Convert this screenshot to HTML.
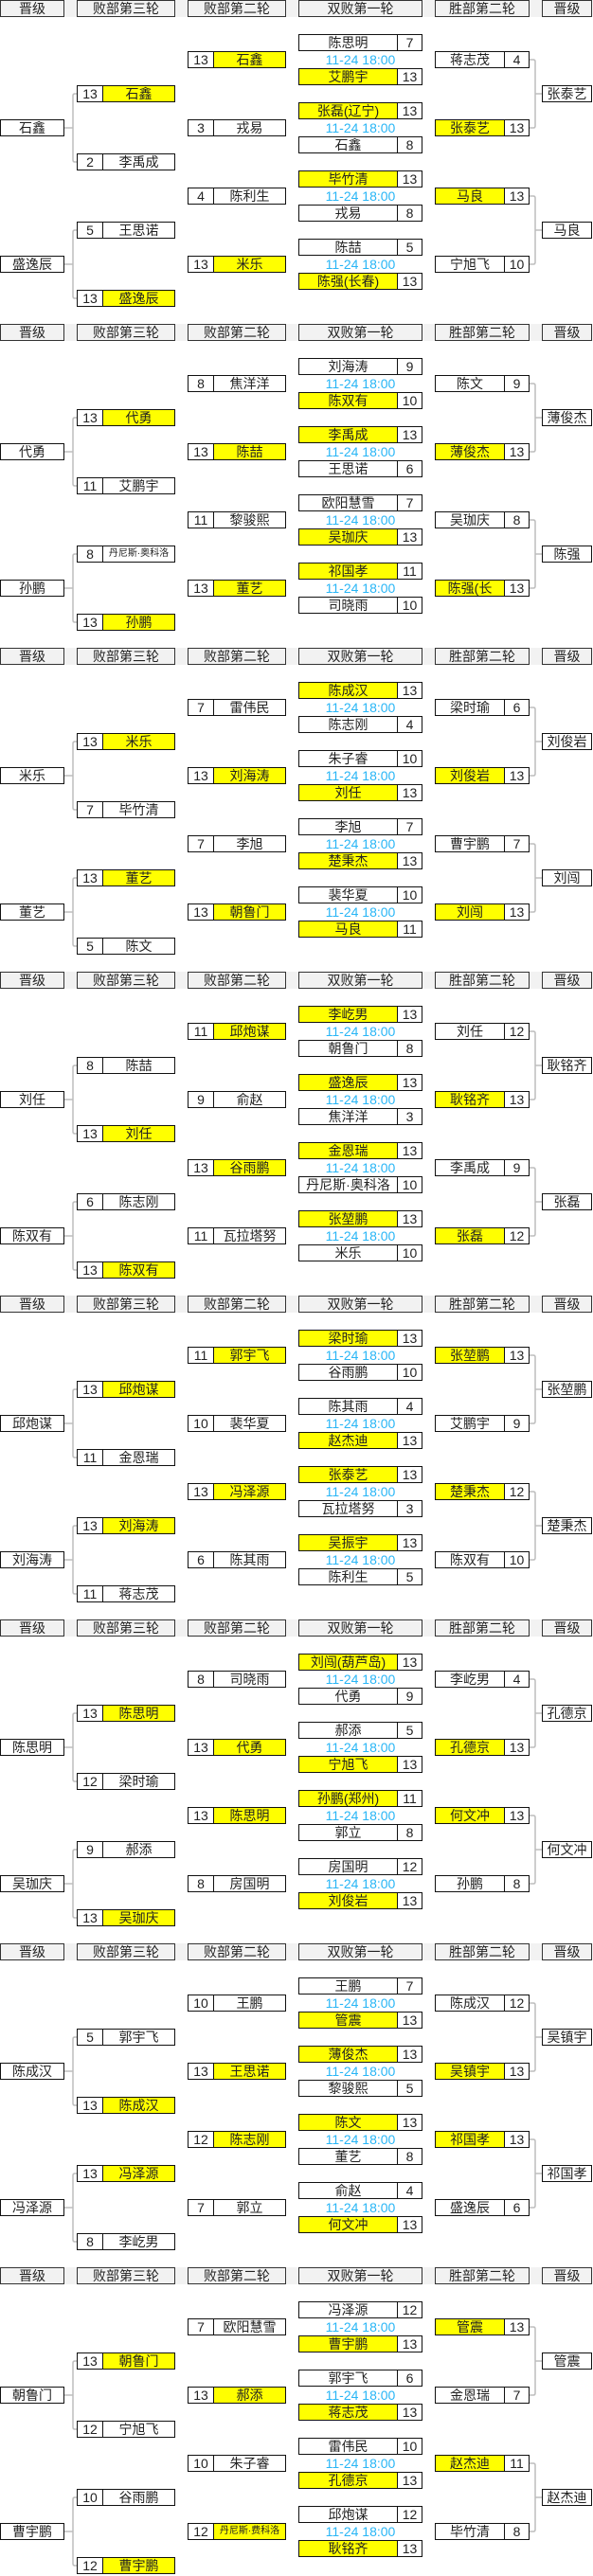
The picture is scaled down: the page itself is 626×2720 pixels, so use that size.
<!DOCTYPE html>
<html><head><meta charset="utf-8">
<style>
body{margin:0;width:626px;height:2720px;position:relative;background:#fff;overflow:hidden;
font-family:"Liberation Sans","Noto Sans CJK SC",sans-serif;font-size:14px;color:#222}
.c{position:absolute;box-sizing:border-box;height:18px;border:1px solid #111;background:#fff;text-align:center;line-height:16px;white-space:nowrap;overflow:hidden}
.y{background:#ffff00}
.h{background:#f2f2f2;border-color:#333}
.hb{position:absolute;left:0;width:626px;height:18px;background:#f2f2f2}
.t{position:absolute;width:131px;left:315px;text-align:center;color:#29b6f6;font-size:14px;line-height:18px;height:18px}
.sm{font-size:10px}
svg{position:absolute;left:0;top:0}
</style></head><body>
<div id="root"></div>
<svg id="lines" width="626" height="2720"></svg>
<script>
var S=[
{d:[["陈思明",7,0],["艾鹏宇",13,1],["张磊(辽宁)",13,1],["石鑫",8,0],["毕竹清",13,1],["戎易",8,0],["陈喆",5,0],["陈强(长春)",13,1]],
b2:[[13,"石鑫",1],[3,"戎易",0],[4,"陈利生",0],[13,"米乐",1]],
b3:[[13,"石鑫",1],[2,"李禹成",0],[5,"王思诺",0],[13,"盛逸辰",1]],
L:["石鑫","盛逸辰"],w:[["蒋志茂",4,0],["张泰艺",13,1],["马良",13,1],["宁旭飞",10,0]],R:["张泰艺","马良"]},
{d:[["刘海涛",9,0],["陈双有",10,1],["李禹成",13,1],["王思诺",6,0],["欧阳慧雪",7,0],["吴珈庆",13,1],["祁国孝",11,1],["司晓雨",10,0]],
b2:[[8,"焦洋洋",0],[13,"陈喆",1],[11,"黎骏熙",0],[13,"董艺",1]],
b3:[[13,"代勇",1],[11,"艾鹏宇",0],[8,"丹尼斯·奥科洛",0,1],[13,"孙鹏",1]],
L:["代勇","孙鹏"],w:[["陈文",9,0],["薄俊杰",13,1],["吴珈庆",8,0],["陈强(长",13,1]],R:["薄俊杰","陈强"]},
{d:[["陈成汉",13,1],["陈志刚",4,0],["朱子睿",10,0],["刘任",13,1],["李旭",7,0],["楚秉杰",13,1],["裴华夏",10,0],["马良",11,1]],
b2:[[7,"雷伟民",0],[13,"刘海涛",1],[7,"李旭",0],[13,"朝鲁门",1]],
b3:[[13,"米乐",1],[7,"毕竹清",0],[13,"董艺",1],[5,"陈文",0]],
L:["米乐","董艺"],w:[["梁时瑜",6,0],["刘俊岩",13,1],["曹宇鹏",7,0],["刘闯",13,1]],R:["刘俊岩","刘闯"]},
{d:[["李屹男",13,1],["朝鲁门",8,0],["盛逸辰",13,1],["焦洋洋",3,0],["金恩瑞",13,1],["丹尼斯·奥科洛",10,0],["张堃鹏",13,1],["米乐",10,0]],
b2:[[11,"邱炮谋",1],[9,"俞赵",0],[13,"谷雨鹏",1],[11,"瓦拉塔努",0]],
b3:[[8,"陈喆",0],[13,"刘任",1],[6,"陈志刚",0],[13,"陈双有",1]],
L:["刘任","陈双有"],w:[["刘任",12,0],["耿铭齐",13,1],["李禹成",9,0],["张磊",12,1]],R:["耿铭齐","张磊"]},
{d:[["梁时瑜",13,1],["谷雨鹏",10,0],["陈其雨",4,0],["赵杰迪",13,1],["张泰艺",13,1],["瓦拉塔努",3,0],["吴振宇",13,1],["陈利生",5,0]],
b2:[[11,"郭宇飞",1],[10,"裴华夏",0],[13,"冯泽源",1],[6,"陈其雨",0]],
b3:[[13,"邱炮谋",1],[11,"金恩瑞",0],[13,"刘海涛",1],[11,"蒋志茂",0]],
L:["邱炮谋","刘海涛"],w:[["张堃鹏",13,1],["艾鹏宇",9,0],["楚秉杰",12,1],["陈双有",10,0]],R:["张堃鹏","楚秉杰"]},
{d:[["刘闯(葫芦岛)",13,1],["代勇",9,0],["郝添",5,0],["宁旭飞",13,1],["孙鹏(郑州)",11,1],["郭立",8,0],["房国明",12,0],["刘俊岩",13,1]],
b2:[[8,"司晓雨",0],[13,"代勇",1],[13,"陈思明",1],[8,"房国明",0]],
b3:[[13,"陈思明",1],[12,"梁时瑜",0],[9,"郝添",0],[13,"吴珈庆",1]],
L:["陈思明","吴珈庆"],w:[["李屹男",4,0],["孔德京",13,1],["何文冲",13,1],["孙鹏",8,0]],R:["孔德京","何文冲"]},
{d:[["王鹏",7,0],["管震",13,1],["薄俊杰",13,1],["黎骏熙",5,0],["陈文",13,1],["董艺",8,0],["俞赵",4,0],["何文冲",13,1]],
b2:[[10,"王鹏",0],[13,"王思诺",1],[12,"陈志刚",1],[7,"郭立",0]],
b3:[[5,"郭宇飞",0],[13,"陈成汉",1],[13,"冯泽源",1],[8,"李屹男",0]],
L:["陈成汉","冯泽源"],w:[["陈成汉",12,0],["吴镇宇",13,1],["祁国孝",13,1],["盛逸辰",6,0]],R:["吴镇宇","祁国孝"]},
{d:[["冯泽源",12,0],["曹宇鹏",13,1],["郭宇飞",6,0],["蒋志茂",13,1],["雷伟民",10,0],["孔德京",13,1],["邱炮谋",12,0],["耿铭齐",13,1]],
b2:[[7,"欧阳慧雪",0],[13,"郝添",1],[10,"朱子睿",0],[12,"丹尼斯·费科洛",1,1]],
b3:[[13,"朝鲁门",1],[12,"宁旭飞",0],[10,"谷雨鹏",0],[12,"曹宇鹏",1]],
L:["朝鲁门","曹宇鹏"],w:[["管震",13,1],["金恩瑞",7,0],["赵杰迪",11,1],["毕竹清",8,0]],R:["管震","赵杰迪"]}
];
var h="",p="";
function box(x,y,w,t,cls){h+='<div class="c '+(cls||"")+'" style="left:'+x+'px;top:'+y+'px;width:'+w+'px">'+t+'</div>';}
function ln(d){p+='<path d="'+d+'" fill="none" stroke="#bdbdbd" stroke-width="1.5"/>';}
var heads=[[0,68,"晋级"],[81,104,"败部第三轮"],[198,104,"败部第二轮"],[315,131,"双败第一轮"],[459,100,"胜部第二轮"],[572,53,"晋级"]];
S.forEach(function(s,k){
 var o=342*k;
 h+='<div class="hb" style="top:'+o+'px"></div>';
 heads.forEach(function(a){box(a[0],o,a[1],a[2],"h");});
 s.d.forEach(function(e,i){
  var m=Math.floor(i/2),y=o+36+m*72+(i%2)*36;
  var sm=e[0].length>7?' sm':'';
  box(315,y,105,e[0],(e[2]?"y":"")+sm);box(419,y,27,e[1]);
  if(i%2==0)h+='<div class="t" style="top:'+(y+18)+'px">11-24 18:00</div>';
 });
 s.b2.forEach(function(e,i){var y=o+54+i*72;box(198,y,28,e[0]);box(225,y,77,e[1],(e[2]?"y":"")+(e[3]?" sm":""));});
 s.b3.forEach(function(e,i){var y=o+[90,162,234,306][i];box(81,y,28,e[0]);box(108,y,77,e[1],(e[2]?"y":"")+(e[3]?" sm":""));});
 s.L.forEach(function(n,i){var y=o+126+i*144;box(0,y,68,n);
   var a=y-27,b=y+45,c=y+9;ln("M81 "+a+" H79 Q77 "+a+" 77 "+(a+2)+" V"+(b-2)+" Q77 "+b+" 79 "+b+" H81 M68 "+c+" H77");});
 s.w.forEach(function(e,i){var y=o+54+i*72;box(459,y,74,e[0],e[2]?"y":"");box(532,y,27,e[1]);});
 s.R.forEach(function(n,i){var y=o+90+i*144;box(572,y,53,n);
   var a=y-27,b=y+45,c=y+9;ln("M559 "+a+" H563 Q565 "+a+" 565 "+(a+2)+" V"+(b-2)+" Q565 "+b+" 563 "+b+" H559 M565 "+c+" H572");});
});
document.getElementById("root").innerHTML=h;
document.getElementById("lines").innerHTML=p;
</script>
</body></html>
